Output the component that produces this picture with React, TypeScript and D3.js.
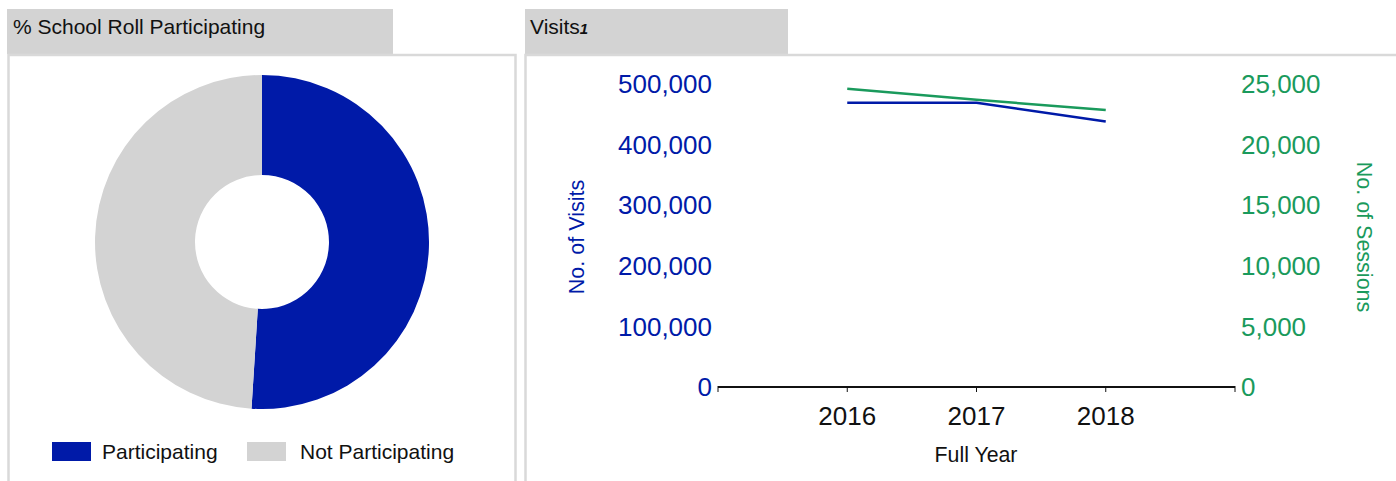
import React, { useRef, useEffect } from 'react';
import * as d3 from 'd3';

const rollLabels = ['Participating', 'Not Participating'];
const rollValues = [51, 49];

const years = ['2016', '2017', '2018'];
const visits = [469000, 469000, 438000];
const sessions = [24600, 23700, 22850];

const visitTicks = [0, 100000, 200000, 300000, 400000, 500000];
const sessionTicks = [0, 5000, 10000, 15000, 20000, 25000];

const BLUE = '#001aa8';
const GREEN = '#1a9a5c';
const GREY = '#d3d3d3';
const FONT = '"Liberation Sans", Arial, sans-serif';

const App: React.FC = () => {
  const ref = useRef<SVGSVGElement>(null);

  useEffect(() => {
    const svg = d3.select(ref.current);
    svg.selectAll('*').remove();
    svg.attr('font-family', FONT);

    // Panel tabs and frames
    svg.append('rect').attr('x', 7).attr('y', 9).attr('width', 386).attr('height', 45).attr('fill', GREY);
    svg.append('text').attr('x', 13).attr('y', 34).attr('font-size', 21).attr('fill', '#111').text('% School Roll Participating');
    svg.append('rect').attr('x', 8.5).attr('y', 55).attr('width', 507).attr('height', 440)
      .attr('fill', 'none').attr('stroke', '#d9d9d9').attr('stroke-width', 2.5);

    svg.append('rect').attr('x', 525).attr('y', 9).attr('width', 263).attr('height', 45).attr('fill', GREY);
    const vt = svg.append('text').attr('x', 530).attr('y', 34).attr('font-size', 21).attr('fill', '#111');
    vt.append('tspan').text('Visits');
    vt.append('tspan').attr('font-size', 15).attr('font-style', 'italic').attr('font-weight', 'bold').text('1');
    svg.append('rect').attr('x', 525.5).attr('y', 55).attr('width', 900).attr('height', 440)
      .attr('fill', 'none').attr('stroke', '#d9d9d9').attr('stroke-width', 2.5);

    // Donut
    const pie = d3.pie<number>().sort(null)(rollValues);
    const arc = d3.arc<d3.PieArcDatum<number>>().innerRadius(67).outerRadius(167);
    const donut = svg.append('g').attr('transform', 'translate(262,242)');
    donut.selectAll('path').data(pie).enter().append('path')
      .attr('d', arc)
      .attr('fill', (_, i) => (i === 0 ? BLUE : GREY));

    const legendX = [52, 247];
    const legendTextX = [102, 300];
    rollLabels.forEach((l, i) => {
      svg.append('rect').attr('x', legendX[i]).attr('y', 442).attr('width', 39).attr('height', 19)
        .attr('fill', i === 0 ? BLUE : GREY);
      svg.append('text').attr('x', legendTextX[i]).attr('y', 459).attr('font-size', 21).attr('fill', '#111').text(l);
    });

    // Line chart
    const x = d3.scalePoint().domain(years).range([718, 1235]).padding(1);
    const yV = d3.scaleLinear().domain([0, 500000]).range([387, 84]);
    const yS = d3.scaleLinear().domain([0, 25000]).range([387, 84]);
    const fmt = d3.format(',');

    svg.append('g').selectAll('text').data(visitTicks).enter().append('text')
      .attr('x', 712).attr('y', d => yV(d)).attr('dy', '0.35em')
      .attr('text-anchor', 'end').attr('font-size', 26).attr('fill', BLUE)
      .text(d => fmt(d));
    svg.append('g').selectAll('text').data(sessionTicks).enter().append('text')
      .attr('x', 1241).attr('y', d => yS(d)).attr('dy', '0.35em')
      .attr('font-size', 26).attr('fill', GREEN)
      .text(d => fmt(d));

    svg.append('text').attr('transform', 'translate(584,237) rotate(-90)')
      .attr('text-anchor', 'middle').attr('font-size', 21.5).attr('fill', BLUE).text('No. of Visits');
    svg.append('text').attr('transform', 'translate(1357,237) rotate(90)')
      .attr('text-anchor', 'middle').attr('font-size', 21.5).attr('fill', GREEN).text('No. of Sessions');

    // x axis
    svg.append('line').attr('x1', 718).attr('x2', 1235).attr('y1', 387).attr('y2', 387)
      .attr('stroke', '#111').attr('stroke-width', 2);
    const tickPos = [718, ...years.map(y => x(y)!), 1235];
    svg.append('g').selectAll('line').data(tickPos).enter().append('line')
      .attr('x1', d => d).attr('x2', d => d).attr('y1', 386).attr('y2', 392)
      .attr('stroke', '#111').attr('stroke-width', 1);
    svg.append('g').selectAll('text').data(years).enter().append('text')
      .attr('x', d => x(d)!).attr('y', 425).attr('text-anchor', 'middle')
      .attr('font-size', 26).attr('fill', '#111').text(d => d);
    svg.append('text').attr('x', 976).attr('y', 462).attr('text-anchor', 'middle')
      .attr('font-size', 21.3).attr('fill', '#111').text('Full Year');

    const visitLine = d3.line<number>().x((_, i) => x(years[i])!).y(d => yV(d));
    const sessionLine = d3.line<number>().x((_, i) => x(years[i])!).y(d => yS(d));
    svg.append('path').datum(sessions).attr('d', sessionLine).attr('fill', 'none')
      .attr('stroke', GREEN).attr('stroke-width', 2.5);
    svg.append('path').datum(visits).attr('d', visitLine).attr('fill', 'none')
      .attr('stroke', BLUE).attr('stroke-width', 2.5);
  }, []);

  return (
    <div style={{ position: 'absolute', left: 0, top: 0, background: '#fff' }}>
      <svg ref={ref} width={1396} height={481} style={{ display: 'block' }} />
    </div>
  );
};

export default App;
